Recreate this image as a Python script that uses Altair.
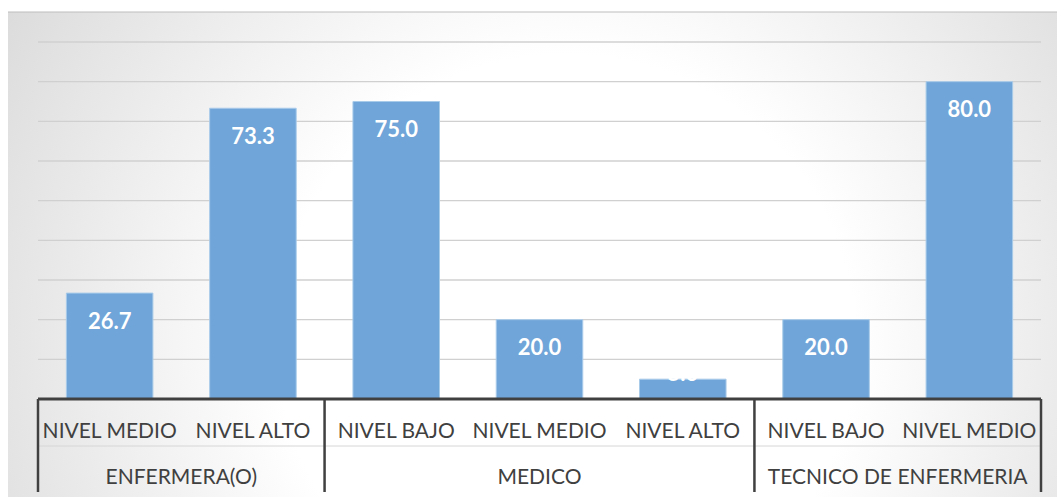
import altair as alt
import pandas as pd

roles = ["ENFERMERA(O)", "ENFERMERA(O)", "MEDICO", "MEDICO", "MEDICO",
         "TECNICO DE ENFERMERIA", "TECNICO DE ENFERMERIA"]
levels = ["NIVEL MEDIO", "NIVEL ALTO", "NIVEL BAJO", "NIVEL MEDIO", "NIVEL ALTO",
          "NIVEL BAJO", "NIVEL MEDIO"]
values = [26.7, 73.3, 75.0, 20.0, 5.0, 20.0, 80.0]
grid_values = [10, 20, 30, 40, 50, 60, 70, 80, 90]

df = pd.DataFrame({"idx": list(range(len(values))), "role": roles,
                   "level": levels, "value": values})
grp = df.groupby("role", sort=False)["idx"].agg(["min", "max"]).reset_index()
grp["center"] = (grp["min"] + grp["max"]) / 2
bounds = sorted(set([v - 0.5 for v in grp["min"]] + [v + 0.5 for v in grp["max"]]))
bdf = pd.DataFrame({"b": bounds})

W, H = 1003, 357
FONT = "Lato"
TXT = "#404040"

xs = alt.Scale(domain=[-0.5, len(values) - 0.5], nice=False, zero=False)
ys = alt.Scale(domain=[0, 90], nice=False)

one = pd.DataFrame({"a": [0]})

grad = alt.RadialGradient(
    gradient="radial",
    x1=0.52, y1=0.53, r1=0.0,
    x2=0.52, y2=0.53, r2=1.0,
    stops=[alt.GradientStop(offset=0.0, color="#ffffff"),
           alt.GradientStop(offset=0.17, color="#ffffff"),
           alt.GradientStop(offset=0.5, color="#c8c8c8"),
           alt.GradientStop(offset=1.0, color="#c0c0c0")],
)

# gradient panel (taller than view so the falloff is mostly horizontal)
bg = alt.Chart(one).mark_rect(fill=grad, clip=False).encode(
    x=alt.value(-30), x2=alt.value(W + 16), y=alt.value(-600), y2=alt.value(1100)
)
white_top = alt.Chart(one).mark_rect(fill="white", clip=False).encode(
    x=alt.value(-38), x2=alt.value(W + 16), y=alt.value(-42), y2=alt.value(-30)
)
white_left = alt.Chart(one).mark_rect(fill="white", clip=False).encode(
    x=alt.value(-38), x2=alt.value(-30), y=alt.value(-42), y2=alt.value(H + 98)
)
frame = alt.Chart(one).mark_rule(color="#bdbdbd", strokeWidth=1, clip=False).encode(
    x=alt.value(-30), x2=alt.value(W + 16), y=alt.value(-30)
)

gridl = alt.Chart(pd.DataFrame({"g": grid_values})).mark_rule(
    color="#d0d0d0", strokeWidth=1.3
).encode(
    y=alt.Y("g:Q", scale=ys, axis=None),
    x=alt.value(0), x2=alt.value(W),
)

base = alt.Chart(df)

bars = base.transform_calculate(
    x1="datum.idx - 0.302", x2="datum.idx + 0.302"
).mark_bar(color="#6fa5d8", stroke="#a9cbea", strokeWidth=1).encode(
    x=alt.X("x1:Q", scale=xs, axis=None),
    x2="x2:Q",
    y=alt.Y("value:Q", scale=ys, axis=None),
    y2=alt.datum(0),
)

labels = base.transform_calculate(
    ly="datum.value > 10 ? datum.value - 7.2 : datum.value + 1.3",
    txt="format(datum.value, '.1f')"
).mark_text(color="white", fontWeight="bold", fontSize=22, font=FONT,
            baseline="middle", align="center").encode(
    x=alt.X("idx:Q", scale=xs, axis=None),
    y=alt.Y("ly:Q", scale=ys, axis=None),
    text="txt:N",
)

ends = pd.DataFrame({"a": [bounds[0]], "b": [bounds[-1]]})

baseline = alt.Chart(ends).mark_rule(color="#404040", strokeWidth=3, clip=False).encode(
    x=alt.X("a:Q", scale=xs, axis=None), x2="b:Q", y=alt.value(H)
)

midline = alt.Chart(ends).mark_rule(color="#d6d6d6", strokeWidth=1, clip=False).encode(
    x=alt.X("a:Q", scale=xs, axis=None), x2="b:Q", y=alt.value(H + 47)
)

seps = alt.Chart(bdf).mark_rule(color="#404040", strokeWidth=2.5, clip=False).encode(
    x=alt.X("b:Q", scale=xs, axis=None), y=alt.value(H), y2=alt.value(H + 93)
)

lvl = base.mark_text(color=TXT, fontSize=21, font=FONT, baseline="middle",
                     align="center", clip=False).encode(
    x=alt.X("idx:Q", scale=xs, axis=None), y=alt.value(H + 33), text="level:N"
)

grpl = alt.Chart(grp).mark_text(color=TXT, fontSize=21, font=FONT, baseline="middle",
                                align="center", clip=False).encode(
    x=alt.X("center:Q", scale=xs, axis=None), y=alt.value(H + 79), text="role:N"
)

chart = alt.layer(bg, white_top, white_left, frame, gridl, bars, labels, midline,
                  baseline, seps, lvl, grpl).properties(
    width=W, height=H,
    autosize=alt.AutoSizeParams(type="none"),
    padding={"left": 38, "top": 42, "right": 16, "bottom": 98},
    background="white",
).configure_view(stroke=None)

chart.save("out.html", embed_options={"renderer": "svg", "actions": False})
